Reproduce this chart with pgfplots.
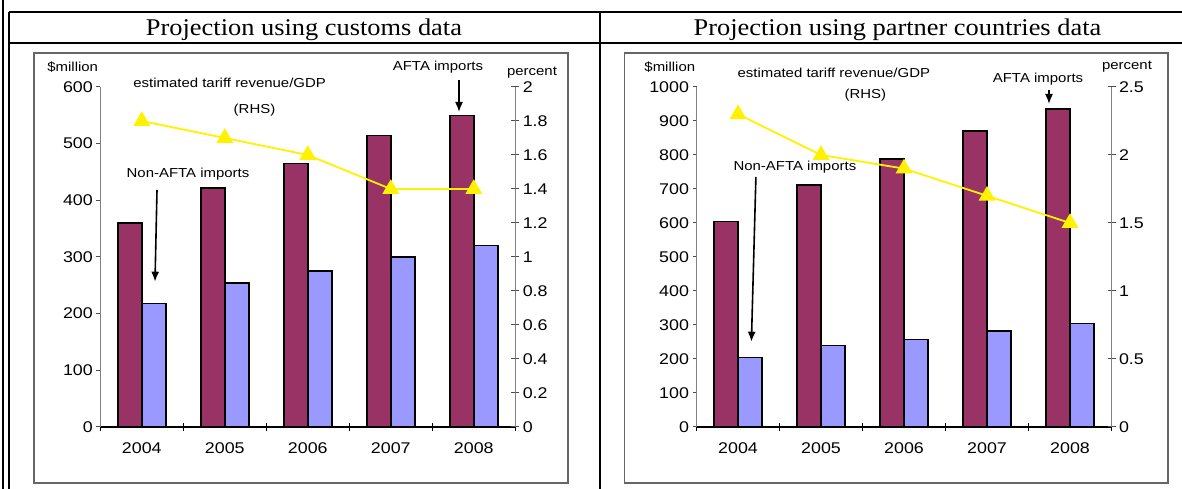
\documentclass[border=0pt]{standalone}
\usepackage{fontspec}
\setmainfont{Liberation Sans}[FakeStretch=1.15]
\newfontfamily\titlefont{Liberation Serif}[FakeStretch=1.1]
\usepackage{pgfplots}
\pgfplotsset{compat=1.18}
\usetikzlibrary{arrows.meta}

\definecolor{afta}{HTML}{993366}
\definecolor{nonafta}{HTML}{9999FF}
\definecolor{axisgray}{HTML}{808080}

\newcommand{\tickfont}{\fontsize{15.5}{18}\selectfont}
\newcommand{\notefont}{\fontsize{13}{15}\selectfont}
\newcommand{\ttlfont}{\titlefont\fontsize{24}{28}\selectfont}

\pgfplotsset{
  barax/.style={
    scale only axis, width=415pt, height=340pt,
    xmin=-0.5, xmax=4.5, ymin=0,
    axis x line*=bottom, axis y line*=left,
    x axis line style={black, line width=1.2pt, -},
    y axis line style={axisgray, line width=1.2pt, -},
    xtick={0,...,4}, xticklabels={2004,2005,2006,2007,2008},
    minor xtick={-0.5,0.5,...,4.5},
    major x tick style={draw=none},
    minor x tick style={black, line width=1pt},
    ytick style={black!70, line width=1pt},
    xtick align=center, ytick align=outside,
    major tick length=4pt, minor tick length=8pt,
    tick label style={font=\tickfont},
    /pgf/number format/assume math mode=true,
    /pgf/number format/1000 sep={},
    xticklabel style={yshift=-10pt},
  },
  lineax/.style={
    scale only axis, width=415pt, height=340pt,
    xmin=-0.5, xmax=4.5, ymin=0,
    axis x line=none, axis y line*=right, xtick=\empty,
    y axis line style={axisgray, line width=1.2pt, -},
    ytick style={black!70, line width=1pt},
    tick align=center, major tick length=8pt,
    tick label style={font=\tickfont},
    /pgf/number format/assume math mode=true,
  },
  afta bar/.style={ybar, bar width=24pt, bar shift=-12pt, fill=afta, draw=black, line width=1.5pt},
  nonafta bar/.style={ybar, bar width=24pt, bar shift=12pt, fill=nonafta, draw=black, line width=1.5pt},
  ratio line/.style={yellow, line width=1.8pt, mark=triangle*, mark size=8pt, mark options={solid, fill=yellow, draw=yellow}},
}

\begin{document}
\begin{tikzpicture}
\useasboundingbox (0pt,0pt) rectangle (1182pt,489pt);

\begin{scope}[x=1pt,y=1pt]
% table frame
\draw[line width=2pt] (3.3,0) -- (3.3,489);
\draw[line width=2pt] (9.3,0) -- (9.3,477.3);
\draw[line width=2pt] (9.3,477.3) -- (1182,477.3);
\draw[line width=2pt] (9.3,445.7) -- (1182,445.7);
\draw[line width=2pt] (600,0) -- (600,477.3);
\node[anchor=base, inner sep=0] at (304,453) {\ttlfont Projection using customs data};
\node[anchor=base, inner sep=0] at (897.5,453) {\ttlfont Projection using partner countries data};
% chart boxes
\draw[black!60, line width=1.2pt] (34,6) rectangle (568,436);
\draw[black!60, line width=1.2pt] (624.5,6) rectangle (1168,436);
\end{scope}

% ---- left: customs data
\begin{axis}[barax, at={(100.3pt,62pt)}, anchor=south west, ymax=600, ytick={0,100,...,600}]
\addplot[afta bar] coordinates {(0,360) (1,422) (2,465) (3,514) (4,550)};
\addplot[nonafta bar] coordinates {(0,218) (1,254) (2,275) (3,300) (4,320)};
\end{axis}
\begin{axis}[lineax, at={(100.3pt,62pt)}, anchor=south west, ymax=2,
  ytick={0,0.2,0.4,0.6,0.8,1,1.2,1.4,1.6,1.8,2}]
\addplot[ratio line] coordinates {(0,1.8) (1,1.7) (2,1.6) (3,1.4) (4,1.4)};
\end{axis}

% ---- right: partner countries data
\begin{axis}[barax, at={(696.5pt,62pt)}, anchor=south west, ymax=1000, ytick={0,100,...,1000}]
\addplot[afta bar] coordinates {(0,605) (1,712) (2,788) (3,871) (4,936)};
\addplot[nonafta bar] coordinates {(0,205) (1,240) (2,258) (3,282) (4,305)};
\end{axis}
\begin{axis}[lineax, at={(696.5pt,62pt)}, anchor=south west, ymax=2.5,
  ytick={0,0.5,1,1.5,2,2.5}]
\addplot[ratio line] coordinates {(0,2.3) (1,2.0) (2,1.9) (3,1.7) (4,1.5)};
\end{axis}

\begin{scope}[x=1pt,y=1pt]
% annotations
\begin{scope}[every node/.style={inner sep=0, font=\notefont}]
\node at (72.7,422) {\$million};
\node at (532,416) {percent};
\node at (229.6,406) {estimated tariff revenue/GDP};
\node at (254.5,379) {(RHS)};
\node at (438,422) {AFTA imports};
\node at (188,315) {Non-AFTA imports};
\node at (669.8,422) {\$million};
\node at (1127,422) {percent};
\node at (833.8,416) {estimated tariff revenue/GDP};
\node at (865.4,394) {(RHS)};
\node at (1038,410) {AFTA imports};
\node at (794.9,322) {Non-AFTA imports};
\end{scope}
\begin{scope}[line width=1.6pt, -{Latex[length=10pt,width=8pt]}]
\draw (459,409) -- (459,377);
\draw (157,299) -- (155,207.3);
\draw (1049,399) -- (1049,385);
\draw (755.9,312) -- (751.4,147.3);
\end{scope}
\end{scope}
\end{tikzpicture}
\end{document}
